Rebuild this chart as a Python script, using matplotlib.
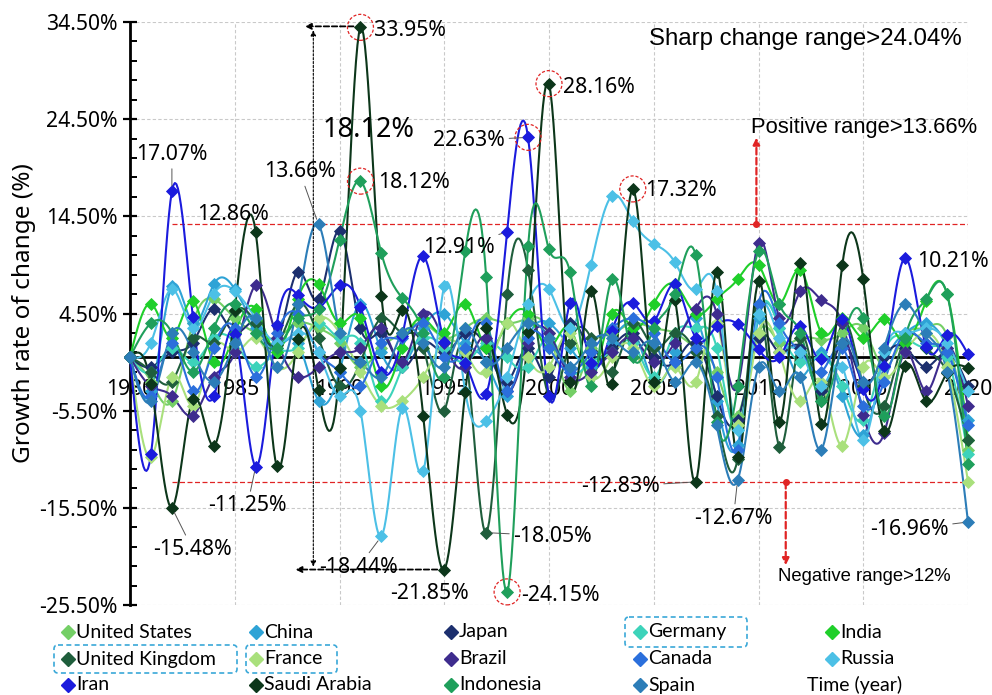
import numpy as np
import matplotlib
matplotlib.use("Agg")
import matplotlib.pyplot as plt
from matplotlib import font_manager
from matplotlib.patches import Ellipse, FancyBboxPatch

# ---------------- data ----------------
years = list(range(1980, 2021))

united_states = [0, -2.5, -4.5, 3.5, 6.0, 4.0, 2.5, 2.0, 3.5, 3.0,
                 1.5, -1.0, 1.0, 2.5, 3.5, 2.0, 3.0, 4.0, 3.5, 4.0,
                 2.5, -3.5, 1.0, 2.5, 3.5, 3.0, 2.5, 1.0, -1.5, -6.0,
                 2.5, 1.5, 2.0, 1.8, 2.5, 3.0, -1.0, 2.3, 3.0, 2.2,
                 -9.5]
china = [0, -3.5, 7.3, 3.5, 7.5, 7.0, 3.0, 1.0, 1.5, -4.5,
         -1.5, 5.5, 0.5, -1.0, 3.0, 4.5, 1.5, -0.5, -4.0, 2.0,
         3.5, 1.0, -1.0, 1.5, 3.0, -2.5, 0.5, 4.0, -4.5, -9.0,
         4.0, 3.0, -2.0, 0.5, -4.0, -8.0, -1.0, 2.5, 3.5, 1.0,
         -6.5]
japan = [0, -1.0, 0.5, 1.5, 5.0, 2.5, 3.5, 1.5, 8.8, 6.0,
         13.0, 3.0, 2.5, -1.0, 1.5, 0.5, 2.5, 1.0, -2.5, 1.0,
         -2.0, 3.5, 0.5, 1.0, 2.5, 0.0, -0.5, 1.5, -4.0, -6.5,
         2.0, 0.5, 1.0, -3.5, 1.5, -2.5, 0.0, 1.0, -1.0, 0.5,
         -3.0]
germany = [0, -1.5, 1.0, -0.5, 2.0, 1.5, -1.0, 0.5, 1.0, 3.5,
           2.0, 1.5, -4.5, -1.0, 2.0, 1.0, -0.5, 1.5, 0.0, -1.0,
           2.0, -1.5, -0.5, 0.5, 1.5, -2.0, 2.5, 3.0, 1.0, -7.5,
           4.5, 3.0, -0.5, 0.0, -3.0, -6.5, 0.5, 2.0, 1.0, 0.0,
           -10.0]
india = [0, 5.5, 2.0, 5.8, -0.5, 2.5, 5.0, 0.5, 6.0, 7.5,
         3.5, 4.0, -3.0, 1.0, 4.0, 2.5, 5.5, 1.0, 3.5, 4.5,
         1.0, 3.0, -2.0, 4.5, 3.0, 5.5, 7.5, 4.5, 6.0, 8.0,
         9.5, 5.5, 9.0, 2.5, 4.0, 2.0, 3.9, 1.5, 5.8, 6.5,
         -8.5]
united_kingdom = [0, -1.5, -2.5, 2.0, 1.5, 4.8, 3.5, 1.3, 5.5, 2.0,
                  -3.0, -0.5, 4.0, 2.5, 1.0, -5.5, 0.5, -18.05, 6.5, 9.0,
                  -4.0, 1.5, 2.0, -1.5, 3.5, 1.0, 2.5, 0.5, -6.0, -10.5,
                  5.5, -9.2, 2.0, -4.5, 3.5, -3.0, -5.0, 2.0, 1.0, -1.5,
                  -8.5]
france = [0, -10.3, -2.0, -5.0, 1.0, 0.5, 2.0, -1.0, 0.5, 4.0,
          2.5, -1.5, -5.0, -4.5, -2.0, 1.5, 0.5, -1.5, 3.5, 0.0,
          -1.0, 2.5, -2.0, 0.0, 1.0, -3.0, -1.0, -2.6, 3.5, -7.0,
          2.5, 0.5, -4.5, -2.5, -9.1, -1.0, -2.0, 0.5, 2.5, -1.0,
          -12.8]
brazil = [0, -3.0, -4.0, -6.0, -2.0, 0.5, 7.4, 2.0, -2.0, -1.0,
          0.5, 1.0, 3.0, -0.5, 4.5, 1.5, -1.0, 2.0, -3.5, 1.5,
          2.5, -2.0, -1.5, 0.5, 2.0, -0.5, 1.5, 5.0, 4.5, -3.0,
          11.8, 4.0, 6.8, 5.9, 3.5, -5.9, -7.8, 0.5, -3.5, 1.0,
          -5.0]
canada = [0, -4.0, 1.5, -3.5, 1.0, 3.0, -2.0, 2.5, 4.5, 0.5,
          -1.5, -3.0, 1.5, 2.0, 3.5, 0.0, 1.0, 3.5, -3.5, 2.0,
          1.0, -1.5, 0.5, 3.0, 4.0, 2.5, -0.5, 1.0, -2.0, -9.5,
          5.5, 3.5, 0.5, -1.5, 1.0, -5.0, -2.5, 2.5, 1.5, 0.5,
          -7.0]
russia = [0, 1.5, 7.0, 3.0, 6.5, 6.8, 4.0, 1.5, 2.5, 0.5,
          -4.0, -5.5, -18.44, -5.2, -11.7, 7.3, -3.5, -6.6, -2.0, 5.5,
          7.0, 3.0, 9.5, 16.6, 14.0, 11.7, 9.8, 7.0, 6.8, -7.5,
          4.5, 2.0, 0.5, -3.0, -1.0, -8.5, 0.5, 2.5, 3.0, 1.5,
          -3.5]
iran = [0, -10.0, 17.07, 4.1, -4.0, 2.4, -11.25, 3.3, 6.4, 5.1,
        7.4, 5.2, -1.5, 2.2, 10.4, 1.6, -0.6, -3.8, 12.91, 22.63,
        -4.0, 5.6, -0.6, 2.7, 5.6, 3.7, 7.5, 2.0, 3.2, 3.4,
        0.8, 0.0, 3.2, -0.2, 3.9, -3.3, -0.9, 10.21, 1.1, 2.3,
        0.3]
saudi_arabia = [0, -2.8, -15.48, -4.3, -9.1, 4.9, 12.86, -11.2, 1.9, -3.4,
                -1.1, 33.95, 6.3, 4.9, -6.1, -21.85, -3.6, 3.0, -5.9, 2.6,
                28.16, -2.6, 6.8, -2.8, 17.32, -2.6, 5.9, -12.83, 8.8, -10.3,
                7.8, -6.7, 9.7, -6.9, 9.5, 8.0, -7.6, -0.9, -4.5, -1.6,
                -1.1]
indonesia = [0, 3.5, 2.5, -1.5, 3.0, 5.5, 2.5, 1.0, 4.0, 5.0,
             12.1, 18.12, 10.7, 6.1, 2.5, -2.0, 10.9, 8.3, -24.15, 11.4,
             11.1, 8.8, -3.0, 8.0, 0.0, 3.0, 6.5, 10.5, -6.7, -3.0,
             10.9, 5.5, 2.5, -4.5, 1.5, 4.0, -6.0, 2.0, 6.0, 6.5,
             -11.0]
spain = [0, -4.5, 2.5, 0.5, -2.5, 1.5, 4.0, -1.0, 5.5, 13.66,
         2.5, -0.5, -2.0, 2.5, 1.5, -1.0, 3.0, -0.5, 1.0, 3.5,
         2.0, -1.0, 1.5, 2.0, 0.5, 1.5, -2.5, -0.5, -7.0, -12.67,
         -1.0, -3.5, -2.0, -9.5, 1.5, -2.5, 1.0, 5.5, 2.5, -1.5,
         -16.96]

country_names = ["United States", "China", "Japan", "Germany", "India",
                 "United Kingdom", "France", "Brazil", "Canada", "Russia",
                 "Iran", "Saudi Arabia", "Indonesia", "Spain"]
country_values = [united_states, china, japan, germany, india,
                  united_kingdom, france, brazil, canada, russia,
                  iran, saudi_arabia, indonesia, spain]
country_colors = ["#74cf66", "#2ea3d6", "#1c2f6e", "#3dd3ba", "#1fcf2a",
                  "#1f5e3c", "#a9e07c", "#3e2c8e", "#2b6fdc", "#4cc0e6",
                  "#1b1bdd", "#0c361a", "#1f9f5b", "#2c7db8"]

y_ticks = [-25.5, -15.5, -5.5, 4.5, 14.5, 24.5, 34.5]
x_ticks = [1980, 1985, 1990, 1995, 2000, 2005, 2010, 2015, 2020]

positive_threshold = 13.66
negative_threshold = -12.83
sharp_top = 33.95
sharp_bottom = -21.85


# ---------------- helpers ----------------
def natural_spline(x, y, pts=14):
    x = np.asarray(x, float)
    y = np.asarray(y, float)
    n = len(x)
    h = np.diff(x)
    A = np.zeros((n, n))
    r = np.zeros(n)
    A[0, 0] = A[-1, -1] = 1.0
    for i in range(1, n - 1):
        A[i, i - 1] = h[i - 1]
        A[i, i] = 2 * (h[i - 1] + h[i])
        A[i, i + 1] = h[i]
        r[i] = 6 * ((y[i + 1] - y[i]) / h[i] - (y[i] - y[i - 1]) / h[i - 1])
    M = np.linalg.solve(A, r)
    xs = np.linspace(x[0], x[-1], (n - 1) * pts + 1)
    idx = np.clip(np.searchsorted(x, xs, side="right") - 1, 0, n - 2)
    x0, x1 = x[idx], x[idx + 1]
    hh = x1 - x0
    a = (x1 - xs) / hh
    b = (xs - x0) / hh
    ys = a * y[idx] + b * y[idx + 1] + ((a ** 3 - a) * M[idx] + (b ** 3 - b) * M[idx + 1]) * hh ** 2 / 6
    return xs, ys


available = {f.name for f in font_manager.fontManager.ttflist}
main_font = "Noto Sans" if "Noto Sans" in available else "DejaVu Sans"
arial_like = "Liberation Sans" if "Liberation Sans" in available else "DejaVu Sans"
legend_font = "Liberation Sans Narrow" if "Liberation Sans Narrow" in available else "Lato"

plt.rcParams["font.family"] = [main_font, "DejaVu Sans"]

W, H = 992, 695
fig = plt.figure(figsize=(W / 100, H / 100), dpi=100)
ax = fig.add_axes([130 / W, 1 - 605 / H, (968 - 130) / W, (605 - 22) / H])

ax.set_xlim(1980, 2020)
ax.set_ylim(-25.5, 34.5)

# grid
for xv in x_ticks[1:]:
    ax.axvline(xv, color="#c9c9c9", lw=0.8, ls=(0, (3, 2)), zorder=0)
for yv in y_ticks:
    ax.axhline(yv, color="#c9c9c9", lw=0.8, ls=(0, (3, 2)), zorder=0)

# series
draw_order = [0, 6, 3, 4, 1, 9, 8, 13, 7, 2, 12, 10, 5, 11]
for i in draw_order:
    xs, ys = natural_spline(years, country_values[i])
    c = country_colors[i]
    ax.plot(xs, ys, color=c, lw=1.5, zorder=3 + i * 0.01, clip_on=False)
    ax.plot(years, country_values[i], ls="none", marker="D", ms=6.2,
            mfc=c, mec=c, mew=0.6, zorder=3.5 + i * 0.01, clip_on=False)

# threshold lines
ax.plot([1982, 2020], [positive_threshold] * 2, color="#e02424", lw=0.9, ls=(0, (4, 2)), zorder=2.5)
ax.plot([1982, 2020], [negative_threshold] * 2, color="#e02424", lw=0.9, ls=(0, (4, 2)), zorder=2.5)

# positive / negative range arrows
px_pos = 2009.9
ax.plot([px_pos], [positive_threshold], marker="o", ms=4, color="#e02424", zorder=6)
ax.annotate("", xy=(px_pos, 22.6), xytext=(px_pos, positive_threshold),
            arrowprops=dict(arrowstyle="-|>", color="#e02424", lw=1.6, ls=(0, (3, 1.5)),
                            shrinkA=0, shrinkB=0, mutation_scale=10), zorder=6)
px_neg = 2011.3
ax.plot([px_neg], [negative_threshold], marker="o", ms=4, color="#e02424", zorder=6)
ax.annotate("", xy=(px_neg, -21.4), xytext=(px_neg, negative_threshold),
            arrowprops=dict(arrowstyle="-|>", color="#e02424", lw=1.6, ls=(0, (3, 1.5)),
                            shrinkA=0, shrinkB=0, mutation_scale=10), zorder=6)

ax.text(2009.65, 23.6, "Positive range>13.66%", family=arial_like, fontsize=15.8,
        ha="left", va="center", zorder=7)
ax.text(2010.95, -22.6, "Negative range>12%", family=arial_like, fontsize=13.3,
        ha="left", va="center", zorder=7)
ax.text(2019.7, 32.7, "Sharp change range>24.04%", family=arial_like, fontsize=17.3,
        ha="right", va="center", zorder=7)

# sharp-change span arrows
ax.annotate("", xy=(1988.35, sharp_top + 0.1), xytext=(1991, sharp_top + 0.1),
            arrowprops=dict(arrowstyle="-|>", color="black", lw=1.3, ls=(0, (3, 1.5)),
                            shrinkA=5, shrinkB=0, mutation_scale=9), zorder=6)
ax.annotate("", xy=(1988.75, sharp_top - 0.3), xytext=(1988.75, sharp_bottom + 0.3),
            arrowprops=dict(arrowstyle="<|-|>", color="black", lw=0.8, ls=(0, (2, 1.5)),
                            shrinkA=0, shrinkB=0, mutation_scale=8), zorder=6)
ax.annotate("", xy=(1987.9, sharp_bottom), xytext=(1995, sharp_bottom),
            arrowprops=dict(arrowstyle="-|>", color="black", lw=1.3, ls=(0, (3, 1.5)),
                            shrinkA=5, shrinkB=0, mutation_scale=9), zorder=6)
ax.text(1991.4, 23.4, "18.12%", fontsize=19.5, ha="center", va="center", zorder=7)

# dashed red circles around key extremes
circled = [(1991, saudi_arabia[11]), (1991, indonesia[11]), (1999, iran[19]),
           (2000, saudi_arabia[20]), (2004, saudi_arabia[24]), (1998, indonesia[18])]
for cx, cy in circled:
    ax.add_patch(Ellipse((cx, cy), width=26 / 20.95, height=26 / 9.72, fill=False,
                         ec="#e02424", lw=0.9, ls=(0, (2.5, 1.5)), zorder=6, clip_on=False))

# value labels
label_kw = dict(fontsize=15.3, zorder=7)
lead = dict(arrowstyle="-", color="#555555", lw=0.7, shrinkA=1, shrinkB=4)


def tag(text, yr, val, tx, ty, ha="center", leader=True):
    ax.annotate(text, xy=(yr, val), xytext=(tx, ty), ha=ha, va="center",
                arrowprops=lead if leader else None, **label_kw)


tag("17.07%", 1982, iran[2], 1982.0, 20.9)
tag("12.86%", 1986, saudi_arabia[6], 1984.9, 14.7)
tag("13.66%", 1989, spain[9], 1988.1, 19.1)
tag("33.95%", 1991, saudi_arabia[11], 1991.65, 33.6, ha="left", leader=False)
tag("18.12%", 1991, indonesia[11], 1991.85, 18.0, ha="left", leader=False)
tag("22.63%", 1999, iran[19], 1997.9, 22.3, ha="right")
tag("28.16%", 2000, saudi_arabia[20], 2000.65, 27.8, ha="left", leader=False)
tag("12.91%", 1998, iran[18], 1995.7, 11.3)
tag("17.32%", 2004, saudi_arabia[24], 2004.6, 17.2, ha="left", leader=False)
tag("10.21%", 2017, iran[37], 2017.55, 9.9, ha="left", leader=False)
tag("-15.48%", 1982, saudi_arabia[2], 1983.0, -19.8)
tag("-11.25%", 1986, iran[6], 1985.6, -15.3)
tag("-18.44%", 1992, russia[12], 1990.9, -21.6)
tag("-21.85%", 1995, saudi_arabia[15], 1994.3, -24.3, leader=False)
tag("-18.05%", 1997, united_kingdom[17], 1998.3, -18.4, ha="left")
tag("-24.15%", 1998, indonesia[18], 1998.65, -24.5, ha="left", leader=False)
tag("-12.83%", 2007, saudi_arabia[27], 2003.4, -13.3)
tag("-12.67%", 2009, spain[29], 2008.8, -16.6)
tag("-16.96%", 2020, spain[40], 2017.2, -17.7)

# axes styling
for s in ("top", "right"):
    ax.spines[s].set_visible(False)
ax.spines["left"].set_linewidth(2)
ax.spines["bottom"].set_position(("data", 0))
ax.spines["bottom"].set_linewidth(2)
ax.spines["bottom"].set_zorder(2.8)

ax.set_yticks(y_ticks)
ax.set_yticklabels([f"{v:.2f}%" for v in y_ticks], fontsize=15.2)
ax.set_yticks(np.arange(-25.5, 34.6, 2.0), minor=True)
ax.tick_params(axis="y", which="major", direction="inout", length=10, width=1.6, pad=4)
ax.tick_params(axis="y", which="minor", direction="in", length=5, width=1.4)
ax.set_xticks(x_ticks)
ax.set_xticklabels([str(v) for v in x_ticks], fontsize=15.2)
ax.tick_params(axis="x", which="major", length=0, pad=16)
ax.set_ylabel("Growth rate of change (%)", fontsize=17.5)
ax.yaxis.set_label_coords(-0.112, 0.5)

# legend in pixel coordinates along the bottom strip
lax = fig.add_axes([0, 0, 1, 85 / H])
lax.set_xlim(0, W)
lax.set_ylim(85, 0)
lax.axis("off")
row_y = [22, 49, 75]
col_x = [68, 256, 451, 640, 832]
for k, (name, c) in enumerate(zip(country_names, country_colors)):
    r, col = divmod(k, 5)
    mx = col_x[col]
    lax.plot([mx], [row_y[r]], marker="D", ms=7, color=c, mec=c, clip_on=False)
    lax.text(mx + 8, row_y[r], name, family=[legend_font, "DejaVu Sans"], fontsize=14,
             ha="left", va="center")
lax.text(855, row_y[2], "Time (year)", family=[legend_font, "DejaVu Sans"], fontsize=14,
         ha="center", va="center")
for (x0, y0, x1, y1) in [(625, 7, 747, 37), (54, 35, 237, 63), (246, 35, 337, 63)]:
    lax.add_patch(FancyBboxPatch((x0, y0), x1 - x0, y1 - y0,
                                 boxstyle="round,pad=0,rounding_size=4",
                                 fill=False, ec="#3aa8d8", lw=1.2, ls=(0, (3, 2))))

fig.savefig("out.png", dpi=100)
